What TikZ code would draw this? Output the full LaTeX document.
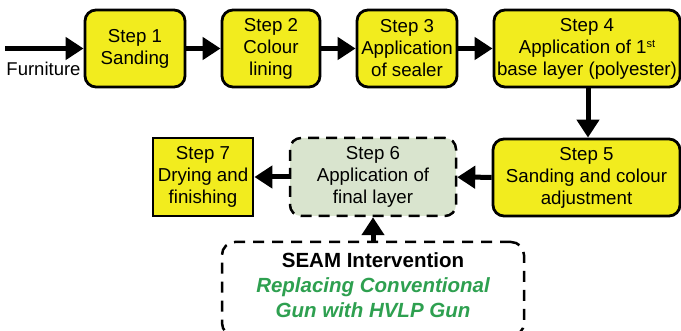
\documentclass[tikz,border=0pt]{standalone}
\usepackage{fontspec}
\setmainfont{Liberation Sans}
\usetikzlibrary{arrows.meta}
\definecolor{stepyellow}{RGB}{242,236,30}
\definecolor{stepgreen}{RGB}{217,228,206}
\definecolor{seamgreen}{RGB}{46,160,80}
\tikzset{
  stepbox/.style={draw=black, line width=2.8pt, fill=stepyellow, rounded corners=11pt,
    align=center, inner sep=0pt, minimum height=77pt,
    font=\fontsize{18.7}{22}\selectfont},
  sharpbox/.style={stepbox, rounded corners=0pt},
  finalbox/.style={stepbox, fill=stepgreen, dash pattern=on 11pt off 7pt, line width=2.5pt},
  seambox/.style={draw=black, line width=2.5pt, dash pattern=on 11pt off 8pt,
    rounded corners=13pt, inner sep=0pt, fill=white},
  seamtext/.style={align=center, inner sep=0pt, font=\fontsize{20.5}{25}\selectfont\bfseries},
  flow/.style={line width=5pt, -{Triangle[length=18pt,width=22pt]}},
}
\begin{document}
\begin{tikzpicture}[x=1pt,y=-1pt]
\useasboundingbox (0,0) rectangle (681,331);
\node[stepbox, minimum width=100pt] (s1) at (135,48.5) {Step 1\\Sanding};
\node[stepbox, minimum width=98pt] (s2) at (271,48.5) {Step 2\\Colour\\lining};
\node[stepbox, minimum width=100pt] (s3) at (407,48.5) {Step 3\\Application\\of sealer};
\node[stepbox, minimum width=186pt] (s4) at (587,48.5) {Step 4\\Application of 1\raisebox{6pt}{\fontsize{11}{11}\selectfont st}\\base layer (polyester)};
\node[stepbox, minimum width=187pt] (s5) at (586.5,177.5) {Step 5\\Sanding and colour\\adjustment};
\node[finalbox, minimum width=166pt, minimum height=78pt] (s6) at (373,177) {Step 6\\Application of\\final layer};
\node[sharpbox, minimum width=100pt, minimum height=78pt] (s7) at (203,177) {Step 7\\Drying and\\finishing};
\node[seambox, minimum width=302pt, minimum height=94pt] (seam) at (373,289) {};
\node[seamtext] (seamtxt) at (373,285)
  {SEAM Intervention\\\textcolor{seamgreen}{\itshape Replacing Conventional}\\\textcolor{seamgreen}{\itshape Gun with HVLP Gun}};
\coordinate (fstart) at (5,48.5);
\node[font=\fontsize{18.5}{22}\selectfont, inner sep=0pt] (furn) at (43.5,69) {Furniture};
\draw[flow] (fstart) -- (s1.west);
\draw[flow] (s1) -- (s2);
\draw[flow] (s2) -- (s3);
\draw[flow] (s3) -- (s4);
\draw[flow] (s4.south -| 588,0) -- (s5.north -| 588,0);
\draw[flow] (s5) -- (s6);
\draw[flow] (s6) -- (s7);
\draw[flow] (seam.north) -- (s6.south);
\end{tikzpicture}
\end{document}
